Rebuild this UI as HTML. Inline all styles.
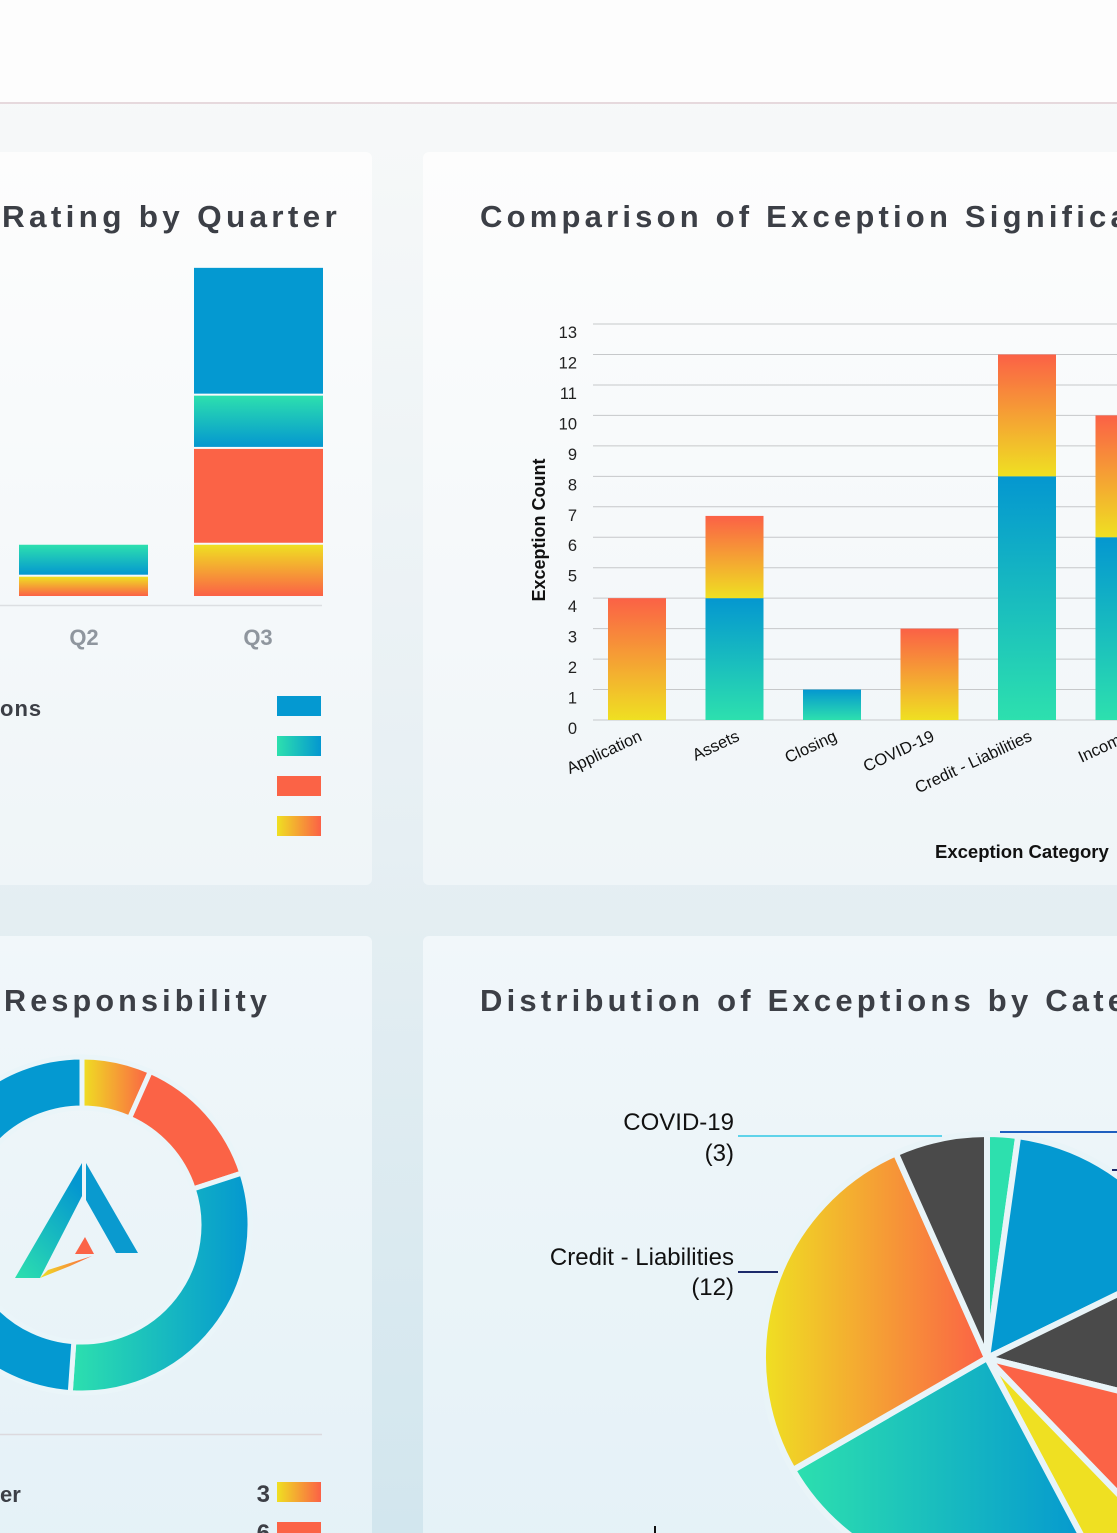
<!DOCTYPE html>
<html><head><meta charset="utf-8"><style>
html,body{margin:0;padding:0;width:1117px;height:1533px;overflow:hidden;background:#f3f6f8}
svg{display:block;font-family:"Liberation Sans",Arial,sans-serif}
.title{font-weight:bold;font-size:31px;letter-spacing:4.2px;fill:#3c3f46}
</style></head><body>
<svg id="root" width="1117" height="1533" viewBox="0 0 1117 1533" xmlns="http://www.w3.org/2000/svg">
<defs>
<linearGradient id="bg" x1="0" y1="0" x2="0" y2="1"><stop offset="0" stop-color="#f9fafa"/><stop offset="0.55" stop-color="#e6eff3"/><stop offset="1" stop-color="#d2e6ee"/></linearGradient>
<linearGradient id="cardTop" x1="0" y1="0" x2="0" y2="1"><stop offset="0" stop-color="#fdfdfd"/><stop offset="1" stop-color="#eff5f8"/></linearGradient>
<linearGradient id="cardBot" x1="0" y1="0" x2="0" y2="1"><stop offset="0" stop-color="#f1f7fa"/><stop offset="1" stop-color="#e4f1f7"/></linearGradient>
<linearGradient id="vTeal" x1="0" y1="1" x2="0" y2="0"><stop offset="0" stop-color="#2de0ae"/><stop offset="1" stop-color="#0497d0"/></linearGradient>
<linearGradient id="vOrange" x1="0" y1="1" x2="0" y2="0"><stop offset="0" stop-color="#efe022"/><stop offset="1" stop-color="#fb6146"/></linearGradient>
<linearGradient id="vTealDown" x1="0" y1="0" x2="0" y2="1"><stop offset="0" stop-color="#2de0ae"/><stop offset="1" stop-color="#0497d0"/></linearGradient>
<linearGradient id="vOrangeDown" x1="0" y1="0" x2="0" y2="1"><stop offset="0" stop-color="#efe022"/><stop offset="1" stop-color="#fb6146"/></linearGradient>
<linearGradient id="hTeal" x1="0" y1="0" x2="1" y2="0"><stop offset="0" stop-color="#2de0ae"/><stop offset="1" stop-color="#0497d0"/></linearGradient>
<linearGradient id="hOrange" x1="0" y1="0" x2="1" y2="0"><stop offset="0" stop-color="#efe022"/><stop offset="1" stop-color="#fb6146"/></linearGradient>
<linearGradient id="logoL" x1="0" y1="1" x2="0.6" y2="0"><stop offset="0" stop-color="#2de0ae"/><stop offset="1" stop-color="#0497d0"/></linearGradient>
</defs>
<rect x="0" y="0" width="1117" height="1533" fill="url(#bg)"/>
<rect x="0" y="0" width="1117" height="102" fill="#fdfdfd"/>
<rect x="0" y="102" width="1117" height="2" fill="#e6d9dd"/>

<rect x="-20" y="152" width="392" height="733" rx="6" fill="url(#cardTop)"/>
<rect x="423" y="152" width="720" height="733" rx="6" fill="url(#cardTop)"/>
<rect x="-20" y="936" width="392" height="640" rx="6" fill="url(#cardBot)"/>
<rect x="423" y="936" width="720" height="640" rx="6" fill="url(#cardBot)"/>

<text class="title" x="341" y="227" text-anchor="end" textLength="339" lengthAdjust="spacingAndGlyphs">Rating by Quarter</text>
<text class="title" x="480" y="227">Comparison of Exception Significance</text>
<text class="title" x="4" y="1011" textLength="267" lengthAdjust="spacingAndGlyphs">Responsibility</text>
<text class="title" x="480" y="1011">Distribution of Exceptions by Category</text>

<g id="qchart"></g>
<line x1="0" y1="605.5" x2="322" y2="605.5" stroke="#dcdfe2" stroke-width="1.5"/>
<text x="84" y="645" text-anchor="middle" font-size="22" font-weight="bold" fill="#8f969e">Q2</text>
<text x="258" y="645" text-anchor="middle" font-size="22" font-weight="bold" fill="#8f969e">Q3</text>
<text x="0" y="716" font-size="22" font-weight="bold" fill="#3c3f46" letter-spacing="1">ons</text>
<rect x="277" y="696" width="44" height="20" fill="#0499d1"/>
<rect x="277" y="736" width="44" height="20" fill="url(#hTeal)"/>
<rect x="277" y="776" width="44" height="20" fill="#fb6346"/>
<rect x="277" y="816" width="44" height="20" fill="url(#hOrange)"/>

<g id="bchart"></g>
<text transform="translate(545,530) rotate(-90)" text-anchor="middle" font-size="18" font-weight="bold" fill="#111">Exception Count</text>
<text x="935" y="858" font-size="18.5" font-weight="bold" fill="#111">Exception Category</text>

<g id="donut"></g>
<g>
<polygon points="82,1163 82,1196 40,1278 15,1278" fill="url(#logoL)"/>
<polygon points="86,1163 138,1253 116,1253 86,1200" fill="#0a9acf"/>
<polygon points="85,1237 94,1254 75,1254" fill="#fb6346"/>
<polygon points="40,1278 48,1270 92,1256 70,1266" fill="url(#hOrange)"/>
</g>
<line x1="0" y1="1434.5" x2="322" y2="1434.5" stroke="#dcd9de" stroke-width="1.5"/>
<text x="0" y="1502" font-size="22" font-weight="bold" fill="#3c3f46">er</text>
<text x="270" y="1502" text-anchor="end" font-size="24" font-weight="bold" fill="#3c3f46">3</text>
<rect x="277" y="1482" width="44" height="20" fill="url(#hOrange)"/>
<text x="270" y="1541" text-anchor="end" font-size="24" font-weight="bold" fill="#3c3f46">6</text>
<rect x="277" y="1522" width="44" height="20" fill="#fb6346"/>

<g id="pie"></g>
<line x1="738" y1="1136" x2="942" y2="1136" stroke="#5fd3ea" stroke-width="2"/>
<text x="734" y="1130" text-anchor="end" font-size="24" fill="#111">COVID-19</text>
<text x="734" y="1161" text-anchor="end" font-size="24" fill="#111">(3)</text>
<line x1="738" y1="1272" x2="778" y2="1272" stroke="#1c2a6b" stroke-width="2"/>
<text x="734" y="1265" text-anchor="end" font-size="24" fill="#111">Credit - Liabilities</text>
<text x="734" y="1295" text-anchor="end" font-size="24" fill="#111">(12)</text>
<line x1="1000" y1="1132" x2="1117" y2="1132" stroke="#1f5fbf" stroke-width="2"/>
<line x1="1112" y1="1170" x2="1117" y2="1170" stroke="#1c2a6b" stroke-width="2"/>
<line x1="655" y1="1526" x2="655" y2="1533" stroke="#111" stroke-width="2"/>
</svg>
<script>
const NS='http://www.w3.org/2000/svg';
// quarter chart data
const quarters=['Q2','Q3'];
const qYellow=[2,5];
const qRed=[0,9];
const qTeal=[3,5];
const qBlue=[0,12];
// significance chart data
const categories=['Application','Assets','Closing','COVID-19','Credit - Liabilities','Income','Information'];
const lowSeries=[0,4,1,0,8,6,3];
const highSeries=[4,2.7,0,3,4,4,2];
const yTicks=[0,1,2,3,4,5,6,7,8,9,10,11,12,13];
// donut data
const donutValues=[3,6,14,22];
// pie data
const pieLabels=['Closing','Assets','Other A','Application','Other B','Income','Credit - Liabilities','COVID-19'];
const pieValues=[1,7,5,4,2,11,12,3];

function mk(tag,attrs,parent){const e=document.createElementNS(NS,tag);for(const k in attrs)e.setAttribute(k,attrs[k]);parent.appendChild(e);return e;}

// quarter stacked bars
(function(){
  const g=document.getElementById('qchart');
  const base=598, unit=10.65, xs=[19,194], w=129;
  const series=[[qYellow,'url(#vOrangeDown)','yellow'],[qRed,'#fb6346','red'],[qTeal,'url(#vTealDown)','teal'],[qBlue,'#0499d1','blue']];
  quarters.forEach((q,i)=>{
    let y=base;
    series.forEach(([arr,fill,nm])=>{
      const h=arr[i]*unit; if(h<=0)return;
      const r=mk('rect',{x:xs[i],y:y-h,width:w,height:Math.max(h-2,0),fill:fill},g);
      
      
      y-=h;
    });
  });
})();

// significance bar chart
(function(){
  const g=document.getElementById('bchart');
  const y0=720, unit=30.46, x0=593, step=97.5, bw=58, first=608;
  const yv=v=>y0-v*unit;
  yTicks.forEach(t=>{
    const l=mk('line',{x1:x0,x2:1117,y1:yv(t),y2:yv(t),stroke:'#c6c8ca','stroke-width':1},g);
    
    
    const tx=mk('text',{x:577,y:yv(t)+14,'text-anchor':'end','font-size':16.5,fill:'#222'},g);
    tx.textContent=t;
    
    
  });
  categories.forEach((c,i)=>{
    const x=first+i*step;
    const lo=lowSeries[i], hi=highSeries[i];
    if(lo>0){const r=mk('rect',{x:x,y:yv(lo),width:bw,height:lo*unit,fill:'url(#vTeal)'},g);
      
      }
    if(hi>0){const r=mk('rect',{x:x,y:yv(lo+hi),width:bw,height:hi*unit,fill:'url(#vOrange)'},g);
      
      }
    const cx=x+bw/2+6, cy=(i===6)?792:740;
    const t=mk('text',{x:cx,y:cy,'text-anchor':'end','font-size':16.5,fill:'#111',transform:'rotate(-25 '+cx+' '+cy+')'},g);
    t.textContent=c;
    
    
  });
})();

function arcPath(cx,cy,r0,r1,a0,a1){
  const p=(r,a)=>[cx+r*Math.sin(a),cy-r*Math.cos(a)];
  const large=(a1-a0)>Math.PI?1:0;
  const [x1,y1]=p(r1,a0),[x2,y2]=p(r1,a1);
  if(r0===0)return `M${cx},${cy}L${x1},${y1}A${r1},${r1} 0 ${large} 1 ${x2},${y2}Z`;
  const [x3,y3]=p(r0,a1),[x4,y4]=p(r0,a0);
  return `M${x1},${y1}A${r1},${r1} 0 ${large} 1 ${x2},${y2}L${x3},${y3}A${r0},${r0} 0 ${large} 0 ${x4},${y4}Z`;
}

// donut
(function(){
  const g=document.getElementById('donut');
  const fills=['url(#hOrange)','#fb6346','url(#hTeal)','#0499d1'];
  const tot=donutValues.reduce((a,b)=>a+b,0);
  let a=0;
  donutValues.forEach((v,i)=>{
    const a1=a+v/tot*2*Math.PI;
    const p=mk('path',{d:arcPath(82,1225,117,168,a,a1),fill:fills[i],stroke:'#eaf5f9','stroke-width':5},g);
    
    
    a=a1;
  });
})();

// pie
(function(){
  const g=document.getElementById('pie');
  const fills=['#2de0ae','#0499d1','#4a4a4a','#fb6346','#efe022','url(#hTeal)','url(#hOrange)','#4a4a4a'];
  const tot=pieValues.reduce((a,b)=>a+b,0);
  let a=0;
  pieValues.forEach((v,i)=>{
    const a1=a+v/tot*2*Math.PI;
    const p=mk('path',{d:arcPath(987,1358,0,224,a,a1),fill:fills[i],stroke:'#e9f4f8','stroke-width':6,'stroke-linejoin':'round'},g);
    
    
    a=a1;
  });
})();
</script>
</body></html>
